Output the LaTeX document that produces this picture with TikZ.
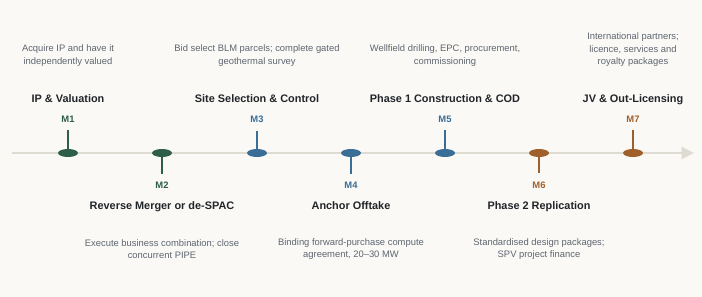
\documentclass[tikz,border=0pt]{standalone}
\usepackage{fontspec}
\setmainfont{Liberation Sans}
\usepackage{xcolor}
\usetikzlibrary{arrows.meta,positioning,shapes.geometric}

\definecolor{paper}{HTML}{FAF9F6}
\definecolor{rail}{HTML}{DEDBD2}
\definecolor{pine}{HTML}{2E5E49}
\definecolor{steel}{HTML}{3B6E97}
\definecolor{copper}{HTML}{A0602C}
\definecolor{ink}{HTML}{212529}
\definecolor{slate}{HTML}{5E6670}

\begin{document}
\begin{tikzpicture}[x=1pt,y=-1pt,
    dot/.style={ellipse,minimum width=20pt,minimum height=8pt,inner sep=0pt},
    mlabel/.style={font=\fontsize{9.4}{11}\selectfont\bfseries,inner xsep=0pt,inner ysep=8pt},
    tick/.style={line width=1.6pt},
    title/.style={font=\fontsize{10.9}{13}\selectfont\bfseries,text=ink,
      text height=8pt,text depth=0pt,inner sep=0pt},
    blurb/.style={font=\fontsize{9.4}{12.7}\selectfont,text=slate,align=center},
    axis/.style={draw=rail,line width=2.4pt,-{Triangle[length=12.5pt,width=12pt]}}
  ]
    \fill[paper] (0,0) rectangle (702,297);
    \useasboundingbox (0,0) rectangle (702,297);
    % timeline
    \coordinate (start) at (12,153);
    \coordinate (finish) at (694,153);
    \draw[axis] (start) -- (finish);
    % milestones above the line
    \node[dot,fill=pine] (m1) at (68,153) {};
    \node[mlabel,text=pine] (l1) at (68,119) {M1};
    \node[title] (t1) at (68,98) {IP \& Valuation};
    \node[blurb] (d1) at (68,55.8) {Acquire IP and have it\\independently valued};
    \node[dot,fill=steel] (m3) at (257,153) {};
    \node[mlabel,text=steel] (l3) at (257,119) {M3};
    \node[title] (t3) at (257,98) {Site Selection \& Control};
    \node[blurb] (d3) at (257,55.8) {Bid select BLM parcels; complete gated\\geothermal survey};
    \node[dot,fill=steel] (m5) at (445,153) {};
    \node[mlabel,text=steel] (l5) at (445,119) {M5};
    \node[title] (t5) at (445,98) {Phase 1 Construction \& COD};
    \node[blurb] (d5) at (445,55.8) {Wellfield drilling, EPC, procurement,\\commissioning};
    \node[dot,fill=copper] (m7) at (633,153) {};
    \node[mlabel,text=copper] (l7) at (633,119) {M7};
    \node[title] (t7) at (633,98) {JV \& Out-Licensing};
    \node[blurb] (d7) at (633,49.7) {International partners;\\licence, services and\\royalty packages};
    % milestones below the line
    \node[dot,fill=pine] (m2) at (162,153) {};
    \node[mlabel,text=pine] (l2) at (162,185) {M2};
    \node[title] (t2) at (162,205.5) {Reverse Merger or de-SPAC};
    \node[blurb] (d2) at (162,249) {Execute business combination; close\\concurrent PIPE};
    \node[dot,fill=steel] (m4) at (351,153) {};
    \node[mlabel,text=steel] (l4) at (351,185) {M4};
    \node[title] (t4) at (351,205.5) {Anchor Offtake};
    \node[blurb] (d4) at (351,249) {Binding forward-purchase compute\\agreement, 20--30 MW};
    \node[dot,fill=copper] (m6) at (539,153) {};
    \node[mlabel,text=copper] (l6) at (539,185) {M6};
    \node[title] (t6) at (539,205.5) {Phase 2 Replication};
    \node[blurb] (d6) at (539,249) {Standardised design packages;\\SPV project finance};
    % ticks
    \draw[tick,pine] (m1) -- (l1);
    \draw[tick,pine] (m2) -- (l2);
    \draw[tick,steel] (m3) -- (l3);
    \draw[tick,steel] (m4) -- (l4);
    \draw[tick,steel] (m5) -- (l5);
    \draw[tick,copper] (m6) -- (l6);
    \draw[tick,copper] (m7) -- (l7);
  \end{tikzpicture}
\end{document}
